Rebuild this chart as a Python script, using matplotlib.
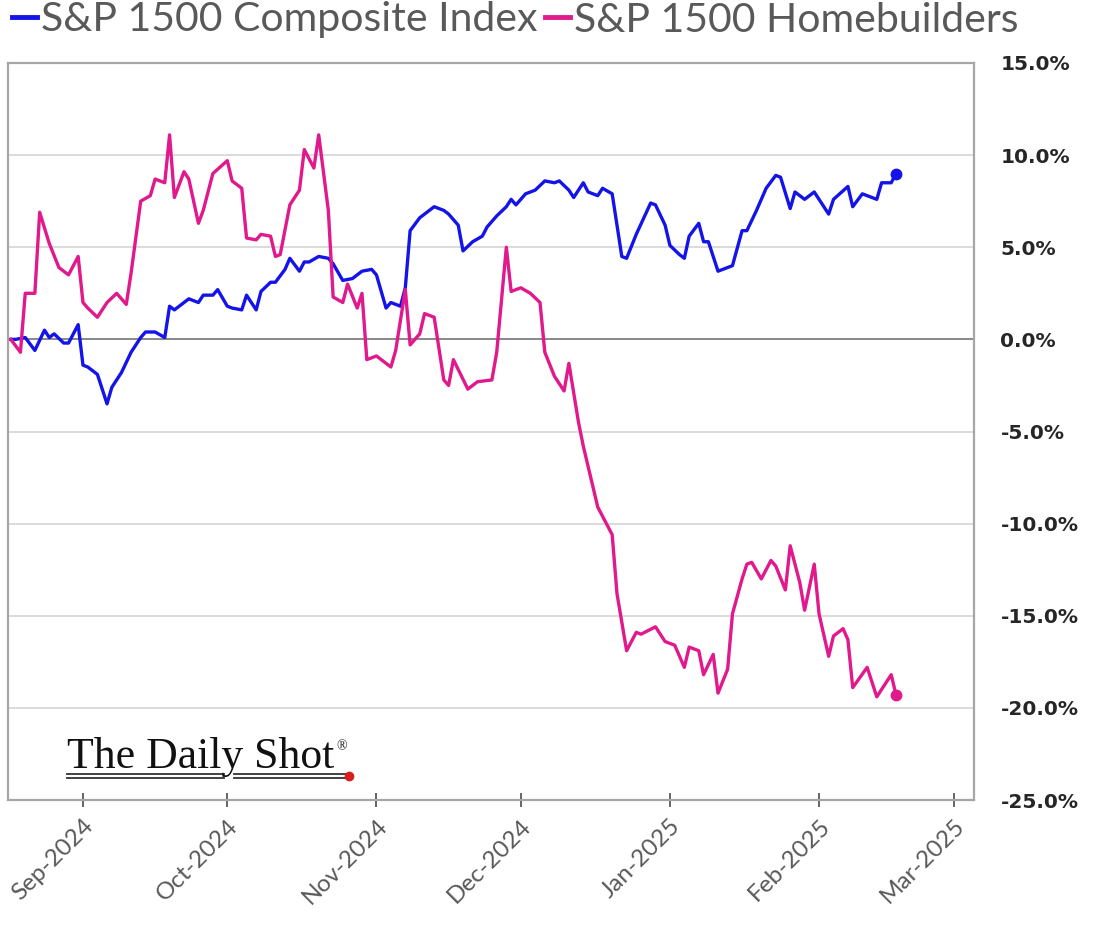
import matplotlib
matplotlib.use("Agg")
import matplotlib.pyplot as plt
import matplotlib.dates as mdates
from matplotlib.lines import Line2D
import pandas as pd

# ---------------- data ----------------
composite_dates = [
    "2024-08-17", "2024-08-18", "2024-08-20", "2024-08-22", "2024-08-24", "2024-08-25",
    "2024-08-26", "2024-08-28", "2024-08-29", "2024-08-31", "2024-09-01", "2024-09-02",
    "2024-09-04", "2024-09-06", "2024-09-07", "2024-09-09", "2024-09-11", "2024-09-13",
    "2024-09-14", "2024-09-16", "2024-09-18", "2024-09-19", "2024-09-20", "2024-09-22",
    "2024-09-23", "2024-09-25", "2024-09-26", "2024-09-28", "2024-09-29", "2024-10-01",
    "2024-10-02", "2024-10-04", "2024-10-05", "2024-10-07", "2024-10-08", "2024-10-10",
    "2024-10-11", "2024-10-13", "2024-10-14", "2024-10-16", "2024-10-17", "2024-10-18",
    "2024-10-20", "2024-10-22", "2024-10-23", "2024-10-25", "2024-10-27", "2024-10-29",
    "2024-10-31", "2024-11-01", "2024-11-03", "2024-11-04", "2024-11-06", "2024-11-07",
    "2024-11-08", "2024-11-10", "2024-11-12", "2024-11-13", "2024-11-15", "2024-11-16",
    "2024-11-18", "2024-11-19", "2024-11-21", "2024-11-23", "2024-11-24", "2024-11-26",
    "2024-11-28", "2024-11-29", "2024-11-30", "2024-12-02", "2024-12-04", "2024-12-06",
    "2024-12-08", "2024-12-09", "2024-12-11", "2024-12-12", "2024-12-14", "2024-12-15",
    "2024-12-17", "2024-12-18", "2024-12-20", "2024-12-22", "2024-12-23", "2024-12-25",
    "2024-12-28", "2024-12-29", "2024-12-31", "2025-01-01", "2025-01-03", "2025-01-04",
    "2025-01-05", "2025-01-07", "2025-01-08", "2025-01-09", "2025-01-11", "2025-01-14",
    "2025-01-16", "2025-01-17", "2025-01-19", "2025-01-21", "2025-01-23", "2025-01-24",
    "2025-01-26", "2025-01-27", "2025-01-29", "2025-01-31", "2025-02-03", "2025-02-04",
    "2025-02-07", "2025-02-08", "2025-02-10", "2025-02-11", "2025-02-13", "2025-02-14",
    "2025-02-16", "2025-02-17",
]
composite_values = [
    0.0, 0.0, 0.1, -0.6, 0.5, 0.1,
    0.3, -0.2, -0.2, 0.8, -1.4, -1.5,
    -1.9, -3.5, -2.6, -1.8, -0.7, 0.1,
    0.4, 0.4, 0.1, 1.8, 1.6, 2.0,
    2.2, 2.0, 2.4, 2.4, 2.7, 1.8,
    1.7, 1.6, 2.4, 1.6, 2.6, 3.1,
    3.1, 3.8, 4.4, 3.7, 4.2, 4.2,
    4.5, 4.4, 4.1, 3.2, 3.3, 3.7,
    3.8, 3.5, 1.7, 2.0, 1.8, 2.8,
    5.9, 6.6, 7.0, 7.2, 7.0, 6.8,
    6.2, 4.8, 5.3, 5.6, 6.1, 6.7,
    7.2, 7.6, 7.3, 7.9, 8.1, 8.6,
    8.5, 8.6, 8.1, 7.7, 8.5, 8.0,
    7.8, 8.2, 7.9, 4.5, 4.4, 5.7,
    7.4, 7.3, 6.2, 5.1, 4.6, 4.4,
    5.6, 6.3, 5.3, 5.3, 3.7, 4.0,
    5.9, 5.9, 7.0, 8.2, 8.9, 8.8,
    7.1, 8.0, 7.6, 8.0, 6.8, 7.6,
    8.3, 7.2, 7.9, 7.8, 7.6, 8.5,
    8.5, 9.0,
]

homebuilders_dates = [
    "2024-08-17", "2024-08-19", "2024-08-20", "2024-08-22", "2024-08-23", "2024-08-25",
    "2024-08-27", "2024-08-29", "2024-08-31", "2024-09-01", "2024-09-02", "2024-09-04",
    "2024-09-06", "2024-09-08", "2024-09-10", "2024-09-11", "2024-09-13", "2024-09-15",
    "2024-09-16", "2024-09-18", "2024-09-19", "2024-09-20", "2024-09-22", "2024-09-23",
    "2024-09-25", "2024-09-26", "2024-09-28", "2024-10-01", "2024-10-02", "2024-10-04",
    "2024-10-05", "2024-10-07", "2024-10-08", "2024-10-10", "2024-10-11", "2024-10-12",
    "2024-10-14", "2024-10-16", "2024-10-17", "2024-10-19", "2024-10-20", "2024-10-22",
    "2024-10-23", "2024-10-25", "2024-10-26", "2024-10-28", "2024-10-29", "2024-10-30",
    "2024-11-01", "2024-11-04", "2024-11-05", "2024-11-07", "2024-11-08", "2024-11-10",
    "2024-11-11", "2024-11-13", "2024-11-15", "2024-11-16", "2024-11-17", "2024-11-20",
    "2024-11-22", "2024-11-25", "2024-11-26", "2024-11-28", "2024-11-29", "2024-12-01",
    "2024-12-03", "2024-12-05", "2024-12-06", "2024-12-08", "2024-12-10", "2024-12-11",
    "2024-12-13", "2024-12-14", "2024-12-15", "2024-12-17", "2024-12-20", "2024-12-21",
    "2024-12-23", "2024-12-25", "2024-12-26", "2024-12-29", "2024-12-31", "2025-01-02",
    "2025-01-04", "2025-01-05", "2025-01-07", "2025-01-08", "2025-01-10", "2025-01-11",
    "2025-01-13", "2025-01-14", "2025-01-16", "2025-01-17", "2025-01-18", "2025-01-20",
    "2025-01-22", "2025-01-23", "2025-01-25", "2025-01-26", "2025-01-28", "2025-01-29",
    "2025-01-31", "2025-02-01", "2025-02-03", "2025-02-04", "2025-02-06", "2025-02-07",
    "2025-02-08", "2025-02-11", "2025-02-13", "2025-02-16", "2025-02-17",
]
homebuilders_values = [
    0.0, -0.7, 2.5, 2.5, 6.9, 5.2,
    3.9, 3.5, 4.5, 2.0, 1.7, 1.2,
    2.0, 2.5, 1.9, 3.6, 7.5, 7.8,
    8.7, 8.5, 11.1, 7.7, 9.1, 8.7,
    6.3, 7.0, 9.0, 9.7, 8.6, 8.2,
    5.5, 5.4, 5.7, 5.6, 4.5, 4.6,
    7.3, 8.1, 10.3, 9.3, 11.1, 7.0,
    2.3, 2.0, 3.0, 1.7, 2.5, -1.1,
    -0.9, -1.5, -0.6, 2.7, -0.3, 0.3,
    1.4, 1.2, -2.2, -2.5, -1.1, -2.7,
    -2.3, -2.2, -0.7, 5.0, 2.6, 2.8,
    2.5, 2.0, -0.7, -2.0, -2.8, -1.3,
    -4.5, -5.8, -6.9, -9.1, -10.6, -13.8,
    -16.9, -15.9, -16.0, -15.6, -16.4, -16.6,
    -17.8, -16.7, -16.9, -18.2, -17.1, -19.2,
    -17.9, -14.9, -13.0, -12.2, -12.1, -13.0,
    -12.0, -12.3, -13.6, -11.2, -13.2, -14.7,
    -12.2, -14.9, -17.2, -16.1, -15.7, -16.3,
    -18.9, -17.8, -19.4, -18.2, -19.3,
]

series_names = ["S&P 1500 Composite Index", "S&P 1500 Homebuilders"]
month_ticks = ["2024-09-01", "2024-10-01", "2024-11-01", "2024-12-01",
               "2025-01-01", "2025-02-01", "2025-03-01"]
y_ticks = [15, 10, 5, 0, -5, -10, -15, -20, -25]

# ---------------- styling ----------------
BLUE = "#1414E8"
PINK = "#E0198C"
TEXT_GRAY = "#595959"

fig = plt.figure(figsize=(11.02, 9.31), dpi=100)
fig.patch.set_facecolor("white")
W, H = 1102, 931
ax = fig.add_axes([8 / W, 1 - 800 / H, (974 - 8) / W, (800 - 63) / H])

cd = pd.to_datetime(composite_dates)
hd = pd.to_datetime(homebuilders_dates)

ax.plot(cd, composite_values, color=BLUE, lw=2.4, solid_joinstyle="round", zorder=4)
ax.plot(hd, homebuilders_values, color=PINK, lw=2.4, solid_joinstyle="round", zorder=4)
ax.plot(cd[-1:], composite_values[-1:], "o", color=BLUE, ms=7.5, zorder=5)
ax.plot(hd[-1:], homebuilders_values[-1:], "o", color=PINK, ms=7.5, zorder=5)

ax.set_ylim(-25, 15)
ax.set_xlim(pd.Timestamp("2024-08-16 10:00"), pd.Timestamp("2025-03-05 05:00"))

# gridlines
for v in y_ticks:
    if v == 0:
        ax.axhline(v, color="#7f7f7f", lw=1.3, zorder=2)
    elif -25 < v < 15:
        ax.axhline(v, color="#d9d9d9", lw=1.3, zorder=1)

for s in ax.spines.values():
    s.set_color("#a6a6a6")
    s.set_linewidth(1.6)

# y axis on the right
ax.yaxis.tick_right()
ax.set_yticks(y_ticks)
ax.set_yticklabels([f"{v:.1f}%" for v in y_ticks],
                   fontfamily="DejaVu Sans", fontweight="bold", fontsize=14.5,
                   color="#262626")
ax.tick_params(axis="y", length=0, pad=19)

# x axis
ax.set_xticks(pd.to_datetime(month_ticks))
ax.xaxis.set_major_formatter(mdates.DateFormatter("%b-%Y"))
ax.tick_params(axis="x", direction="inout", length=10, width=1.3, color="#595959", pad=6)
for lab in ax.get_xticklabels():
    lab.set_rotation(45)
    lab.set_ha("right")
    lab.set_rotation_mode("anchor")
    lab.set_fontfamily("Lato")
    lab.set_fontsize(17.5)
    lab.set_color(TEXT_GRAY)

# legend
handles = [Line2D([0], [0], color=BLUE, lw=3.5), Line2D([0], [0], color=PINK, lw=3.5)]
leg = fig.legend(handles, series_names, loc="center left",
                 bbox_to_anchor=(12 / W, 1 - 20 / H), ncol=2, frameon=False,
                 prop={"family": "Lato", "size": 29.5}, handlelength=0.6,
                 handletextpad=0.1, columnspacing=0.2, borderpad=0, borderaxespad=0)
for t in leg.get_texts():
    t.set_color(TEXT_GRAY)

# watermark
fig.text(67 / W, 1 - 768 / H, "The Daily Shot", fontfamily="Liberation Serif",
         fontsize=31.5, color="#111111", va="baseline", ha="left")
fig.text(336 / W, 1 - 750 / H, "®", fontfamily="Liberation Serif",
         fontsize=10, color="#111111", va="baseline", ha="left")
for yy in (774, 777.5):
    fig.add_artist(Line2D([67 / W, 224 / W], [1 - yy / H] * 2, color="#333333", lw=1.3))
    fig.add_artist(Line2D([234 / W, 346 / W], [1 - yy / H] * 2, color="#333333", lw=1.3))
fig.add_artist(Line2D([349 / W], [1 - 776 / H], marker="o", color="#d81e1e", ms=6))

fig.savefig("out.png", dpi=100, facecolor="white")
